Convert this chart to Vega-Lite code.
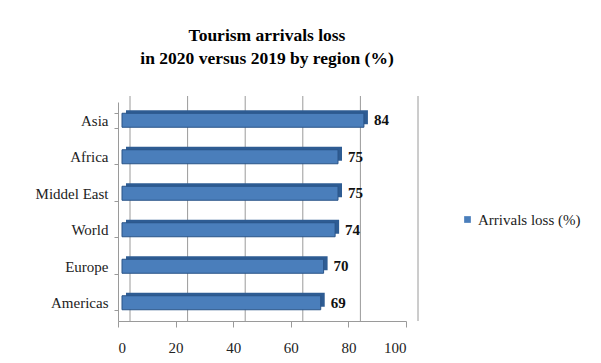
{
  "$schema": "https://vega.github.io/schema/vega-lite/v6.json",
  "width": 288,
  "height": 219,
  "autosize": {"type": "none"},
  "padding": {"left": 118, "top": 102, "right": 195, "bottom": 42},
  "background": "white",
  "title": {
    "text": ["Tourism arrivals loss", "in 2020  versus 2019 by region (%)"],
    "font": "Liberation Serif",
    "fontSize": 17.5,
    "fontWeight": "bold",
    "color": "#000000",
    "lineHeight": 23,
    "offset": 28,
    "dx": 5,
    "anchor": "middle"
  },
  "datasets": {
    "bars": [
      {"region": "Asia", "loss": 84, "series": "Arrivals loss (%)"},
      {"region": "Africa", "loss": 75, "series": "Arrivals loss (%)"},
      {"region": "Middel East", "loss": 75, "series": "Arrivals loss (%)"},
      {"region": "World", "loss": 74, "series": "Arrivals loss (%)"},
      {"region": "Europe", "loss": 70, "series": "Arrivals loss (%)"},
      {"region": "Americas", "loss": 69, "series": "Arrivals loss (%)"}
    ],
    "grid": [{"v": 0}, {"v": 20}, {"v": 40}, {"v": 60}, {"v": 80}, {"v": 100}]
  },
  "layer": [
    {
      "data": {"name": "grid"},
      "mark": {"type": "rule", "color": "#9a9a9a", "strokeWidth": 1, "xOffset": 12, "yOffset": -6},
      "encoding": {
        "x": {"field": "v", "type": "quantitative", "scale": {"domain": [0, 100]}}
      }
    },
    {
      "data": {"name": "bars"},
      "mark": {"type": "bar", "size": 14, "color": "#2E5C93", "xOffset": 8, "yOffset": -3},
      "encoding": {
        "y": {"field": "region", "type": "nominal", "sort": null},
        "x": {"field": "loss", "type": "quantitative"}
      }
    },
    {
      "data": {"name": "bars"},
      "mark": {"type": "bar", "size": 14, "stroke": "#2A5488", "strokeWidth": 1, "xOffset": 4},
      "encoding": {
        "y": {
          "field": "region", "type": "nominal", "sort": null, "title": null,
          "axis": {
            "labelFont": "Liberation Serif", "labelFontSize": 15, "labelColor": "#222222",
            "domainColor": "#9a9a9a", "tickColor": "#9a9a9a", "tickSize": 4, "labelPadding": 6,
            "tickBand": "extent"
          },
          "scale": {"paddingInner": 0.6, "paddingOuter": 0.3}
        },
        "x": {
          "field": "loss", "type": "quantitative", "title": null,
          "scale": {"domain": [0, 100]},
          "axis": {
            "values": [0, 20, 40, 60, 80, 100], "grid": false,
            "labelFont": "Liberation Serif", "labelFontSize": 15, "labelColor": "#222222",
            "domainColor": "#9a9a9a", "tickColor": "#9a9a9a", "tickSize": 6, "labelPadding": 13
          }
        },
        "color": {
          "field": "series", "type": "nominal",
          "scale": {"range": ["#4A7EBB"]},
          "legend": {
            "title": null, "orient": "none", "legendX": 342, "legendY": 110,
            "symbolType": "square", "symbolSize": 45, "symbolStrokeWidth": 0,
            "labelFont": "Liberation Serif", "labelFontSize": 15, "labelColor": "#222222",
            "labelOffset": 3
          }
        }
      }
    },
    {
      "data": {"name": "bars"},
      "mark": {"type": "text", "align": "left", "baseline": "middle", "dx": 14, "font": "Liberation Serif", "fontSize": 15, "fontWeight": "bold", "color": "#111111"},
      "encoding": {
        "y": {"field": "region", "type": "nominal", "sort": null},
        "x": {"field": "loss", "type": "quantitative"},
        "text": {"field": "loss", "type": "quantitative"}
      }
    }
  ],
  "config": {
    "view": {"stroke": null}
  }
}
